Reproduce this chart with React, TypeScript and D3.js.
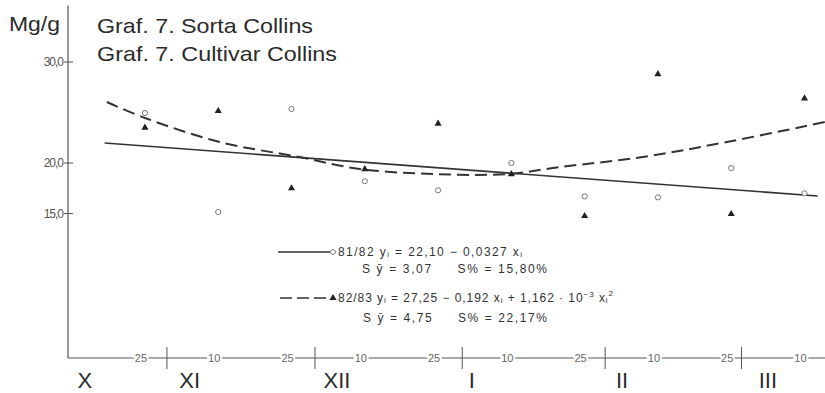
import React from "react";
import * as d3 from "d3";

// ---- data ----
const sampleLabels = ["25", "10", "25", "10", "25", "10", "25", "10", "25", "10"];
const sampleIndex = [0, 1, 2, 3, 4, 5, 6, 7, 8, 9];
const series8182 = [24.95, 15.15, 25.35, 18.2, 17.3, 20.0, 16.7, 16.6, 19.5, 17.0];
const series8283 = [23.5, 25.15, 17.5, 19.4, 23.9, 18.9, 14.75, 28.8, 14.95, 26.4];
const months = ["X", "XI", "XII", "I", "II", "III"];
const monthLabelPos = [-0.82, 0.61, 2.62, 4.46, 6.51, 8.5];
const monthBoundaries = [0.3, 2.32, 4.33, 6.28, 8.14];
const yTicks = [15, 20, 30];
const yTickLabels = ["15,0", "20,0", "30,0"];
const trend8182: [number, number][] = [
  [-0.55, 21.98],
  [9.18, 16.73],
];
const trend8283: [number, number][] = [
  [-0.52, 26.04],
  [0, 24.46],
  [1.02, 22.08],
  [2.11, 20.59],
  [2.93, 19.41],
  [3.93, 18.91],
  [4.94, 18.91],
  [5.66, 19.6],
  [6.79, 20.59],
  [7.94, 22.08],
  [9.28, 24.06],
];

const W = 825;
const H = 393;
const FONT = "Liberation Sans, Arial, sans-serif";
const INK = "#2b2b2b";

export default function App() {
  const x = d3.scaleLinear().domain([-1.05, 9.28]).range([68, 825]);
  const y = d3.scaleLinear().domain([0.7, 30]).range([358, 62]);
  const yTop = 35.6;

  const line = d3
    .line<[number, number]>()
    .x((d) => x(d[0]))
    .y((d) => y(d[1]));
  const curve = d3
    .line<[number, number]>()
    .x((d) => x(d[0]))
    .y((d) => y(d[1]))
    .curve(d3.curveCatmullRom.alpha(0.5));

  const tri = d3.symbol().type(d3.symbolTriangle).size(22)();

  return (
    <svg
      width={W}
      height={H}
      style={{ position: "absolute", left: 0, top: 0, background: "#fff" }}
      fontFamily={FONT}
    >
      <rect width={W} height={H} fill="#fff" />
      {/* titles */}
      <text x={9} y={31} fontSize={21} fill={INK} textLength={51} lengthAdjust="spacingAndGlyphs">Mg/g</text>
      <text x={97} y={33} fontSize={21} fill={INK} textLength={216} lengthAdjust="spacingAndGlyphs">
        Graf. 7. Sorta Collins
      </text>
      <text x={97} y={61} fontSize={21} fill={INK} textLength={240} lengthAdjust="spacingAndGlyphs">
        Graf. 7. Cultivar Collins
      </text>

      {/* y axis */}
      <line x1={x(-1.05)} x2={x(-1.05)} y1={y(yTop)} y2={y(0.7)} stroke="#555" strokeWidth={1.2} />
      {yTicks.map((t, i) => (
        <g key={t}>
          <line x1={x(-1.05) - 4} x2={x(-1.05) + 5} y1={y(t)} y2={y(t)} stroke="#555" strokeWidth={1} />
          <text x={x(-1.05) - 5} y={y(t) + 4} fontSize={12} textAnchor="end" fill="#555" letterSpacing={-1}>
            {yTickLabels[i]}
          </text>
        </g>
      ))}

      {/* x axis */}
      <line x1={x(-1.05)} x2={x(9.28)} y1={y(0.7)} y2={y(0.7)} stroke="#555" strokeWidth={1} />
      {monthBoundaries.map((b) => (
        <line key={b} x1={x(b)} x2={x(b)} y1={y(0.7) - 11} y2={y(0.7) + 11} stroke="#555" strokeWidth={1} />
      ))}
      {sampleIndex.map((s, i) => (
        <text
          key={s}
          x={x(s) - 4}
          y={y(0.7) + 4}
          fontSize={11}
          textAnchor="middle"
          fill="#666"
          stroke="#fff"
          strokeWidth={4}
          paintOrder="stroke"
        >
          {sampleLabels[i]}
        </text>
      ))}
      {months.map((m, i) => (
        <text key={m} x={x(monthLabelPos[i])} y={388} fontSize={22} textAnchor="middle" fill={INK}>
          {m}
        </text>
      ))}

      {/* trend lines */}
      <path d={line(trend8182) || ""} fill="none" stroke="#333" strokeWidth={1.6} />
      <path d={curve(trend8283) || ""} fill="none" stroke="#333" strokeWidth={2} strokeDasharray="12 6" />

      {/* points */}
      {series8182.map((v, i) => (
        <circle key={"c" + i} cx={x(sampleIndex[i])} cy={y(v)} r={2.6} fill="#fff" stroke="#777" strokeWidth={1} />
      ))}
      {series8283.map((v, i) => (
        <path key={"t" + i} d={tri || ""} transform={`translate(${x(sampleIndex[i])},${y(v)})`} fill="#222" />
      ))}

      {/* legend */}
      <line x1={278} x2={330} y1={252} y2={252} stroke="#333" strokeWidth={1.5} />
      <circle cx={333} cy={252} r={2.4} fill="#fff" stroke="#777" strokeWidth={1} />
      <text x={338} y={256} fontSize={12} fill="#333" textLength={184} lengthAdjust="spacing">
        81/82 y<tspan fontSize={8} dy={1}>i</tspan>
        <tspan dy={-1}> = 22,10 − 0,0327 x</tspan>
        <tspan fontSize={8} dy={1}>i</tspan>
      </text>
      <text x={362} y={273} fontSize={12} fill="#333" xmlSpace="preserve" textLength={185} lengthAdjust="spacing">
        S ȳ = 3,07     S% = 15,80%
      </text>
      <line x1={280} x2={330} y1={298} y2={298} stroke="#333" strokeWidth={1.5} strokeDasharray="12 5" />
      <path d={tri || ""} transform="translate(333,298)" fill="#222" />
      <text x={338} y={302} fontSize={12} fill="#333" textLength={275} lengthAdjust="spacing">
        82/83 y<tspan fontSize={8} dy={1}>i</tspan>
        <tspan dy={-1}> = 27,25 − 0,192 x</tspan>
        <tspan fontSize={8} dy={1}>i</tspan>
        <tspan dy={-1}> + 1,162 · 10</tspan>
        <tspan fontSize={8} dy={-5}>−3</tspan>
        <tspan dy={5}> x</tspan>
        <tspan fontSize={8} dy={1}>i</tspan>
        <tspan fontSize={8} dy={-7}>2</tspan>
      </text>
      <text x={363} y={322} fontSize={12} fill="#333" xmlSpace="preserve" textLength={184} lengthAdjust="spacing">
        S ȳ = 4,75     S% = 22,17%
      </text>
    </svg>
  );
}
